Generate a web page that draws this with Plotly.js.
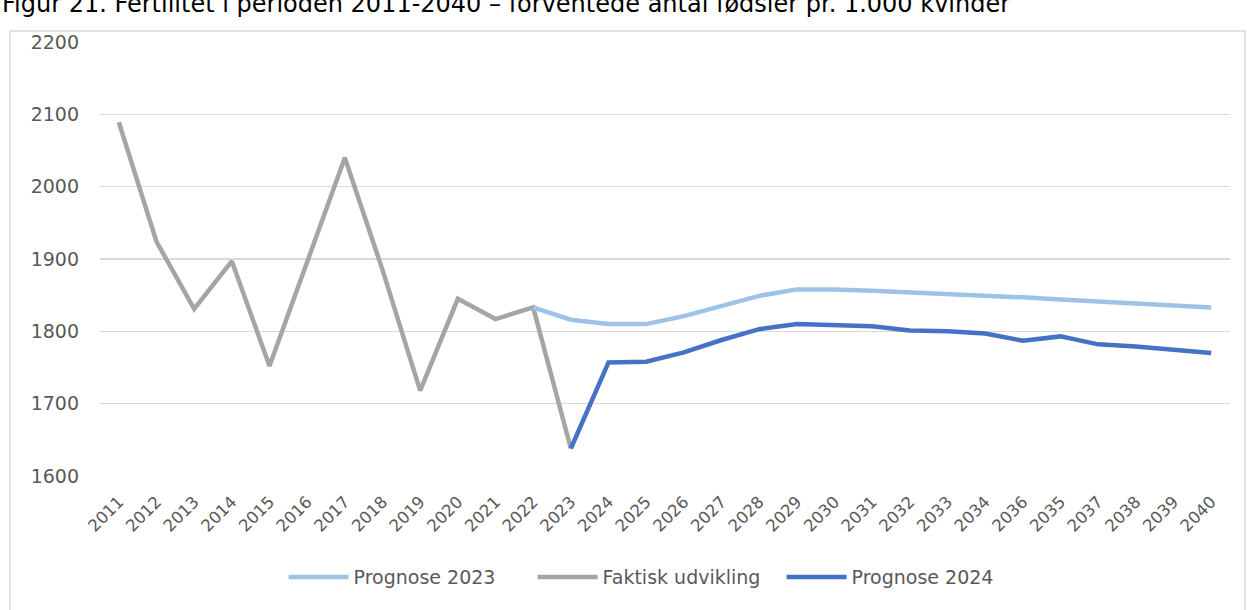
<!DOCTYPE html>
<html>
<head>
<meta charset="utf-8">
<script src="https://cdn.plot.ly/plotly-3.0.1.min.js"></script>
<style>
html,body{margin:0;padding:0;background:#fff;}
#chart{width:1247px;height:610px;}
</style>
</head>
<body>
<div id="chart"></div>
<script>
const categories = ["2011","2012","2013","2014","2015","2016","2017","2018","2019","2020","2021","2022","2023","2024","2025","2026","2027","2028","2029","2030","2031","2032","2033","2034","2036","2035","2037","2038","2039","2040"];

const faktiskYears = ["2011","2012","2013","2014","2015","2016","2017","2018","2019","2020","2021","2022","2023"];
const faktiskValues = [2089,1924,1831,1897,1752,1898,2040,1885,1718,1845,1817,1833,1638];

const prog2023Years = ["2022","2023","2024","2025","2026","2027","2028","2029","2030","2031","2032","2033","2034","2036","2035","2037","2038","2039","2040"];
const prog2023Values = [1833,1816,1810,1810,1821,1835,1849,1858,1858,1856,1854,1852,1849,1847,1844,1841,1839,1836,1833];

const prog2024Years = ["2023","2024","2025","2026","2027","2028","2029","2030","2031","2032","2033","2034","2036","2035","2037","2038","2039","2040"];
const prog2024Values = [1638,1757,1758,1771,1788,1803,1810,1809,1807,1801,1800,1797,1787,1793,1782,1779,1774,1770];

const yTicks = [1600,1700,1800,1900,2000,2100,2200];
const titleText = "Figur 21. Fertilitet i perioden 2011-2040 – forventede antal fødsler pr. 1.000 kvinder";

const font = "DejaVu Sans, Verdana, sans-serif";

const traces = [
  {x: faktiskYears, y: faktiskValues, name: "Faktisk udvikling", type: "scatter", mode: "lines",
   line: {color: "#A5A5A5", width: 4.5, shape: "linear"}, legendrank: 2},
  {x: prog2023Years, y: prog2023Values, name: "Prognose 2023", type: "scatter", mode: "lines",
   line: {color: "#9DC3E6", width: 4.5}, legendrank: 1},
  {x: prog2024Years, y: prog2024Values, name: "Prognose 2024", type: "scatter", mode: "lines",
   line: {color: "#4472C4", width: 4.5}, legendrank: 3}
];

const layout = {
  width: 1247, height: 610,
  margin: {l: 100, r: 17, t: 42, b: 134},
  paper_bgcolor: "#fff", plot_bgcolor: "#fff",
  font: {family: font, color: "#595959"},
  showlegend: true,
  xaxis: {
    type: "category", categoryorder: "array", categoryarray: categories,
    range: [-0.5, categories.length - 0.5],
    tickangle: -45, tickfont: {size: 16.5, color: "#595959"},
    showgrid: false, zeroline: false, showline: false, ticks: "",
    ticklabelstandoff: 12, fixedrange: true
  },
  yaxis: {
    range: [1600, 2200], tickvals: yTicks, ticktext: yTicks.map(String),
    tickfont: {size: 19, color: "#595959"},
    showgrid: true, gridcolor: "#D9D9D9", gridwidth: 1.5,
    zeroline: false, showline: false, ticks: "",
    ticklabelstandoff: 20, fixedrange: true
  },
  legend: {
    orientation: "h", x: 0.493, xanchor: "center", y: -0.233, yanchor: "middle",
    font: {size: 19, color: "#595959"}, itemwidth: 60, traceorder: "normal",
    entrywidth: 174, entrywidthmode: "pixels",
    bgcolor: "rgba(0,0,0,0)"
  },
  shapes: [{
    type: "rect", xref: "paper", yref: "paper",
    x0: (10 - 100) / 1130, x1: (1245 - 100) / 1130,
    y0: (476 - 615) / 434, y1: (476 - 31) / 434,
    line: {color: "#D9D9D9", width: 1.5}, fillcolor: "rgba(0,0,0,0)", layer: "below"
  }],
  annotations: [{
    text: titleText, xref: "paper", yref: "paper",
    x: (0 - 100) / 1130, xanchor: "left",
    y: 1 + (42 - 20) / 434, yanchor: "bottom",
    showarrow: false, font: {family: font, size: 24, color: "#000"}
  }]
};

Plotly.newPlot("chart", traces, layout, {displayModeBar: false, staticPlot: true});
</script>
</body>
</html>
